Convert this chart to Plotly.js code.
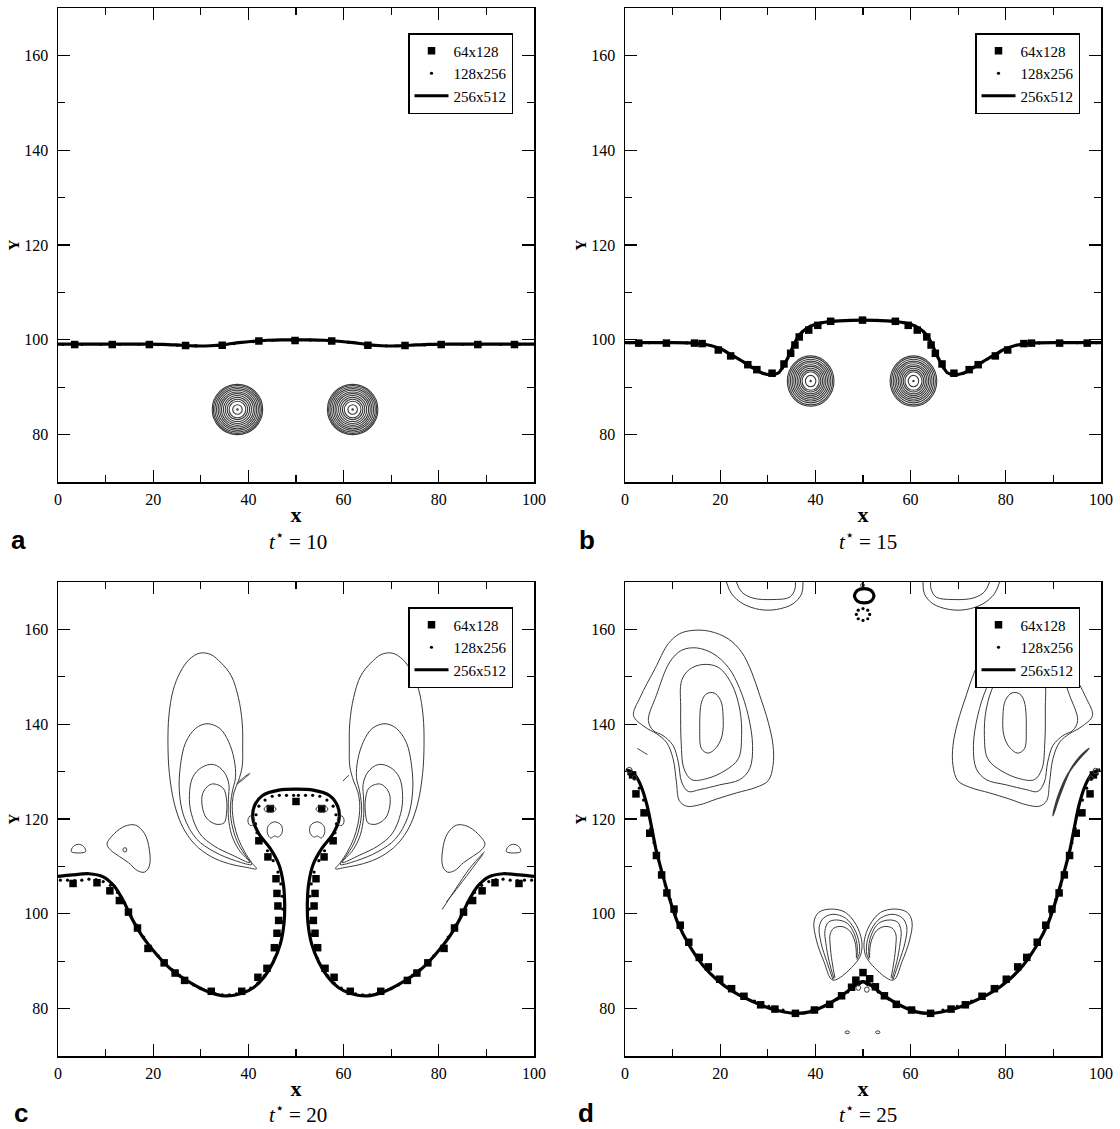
<!DOCTYPE html>
<html><head><meta charset="utf-8">
<script src="https://cdn.plot.ly/plotly-3.0.1.min.js"></script>
<style>html,body{margin:0;padding:0;background:#fff;} #chart{width:1120px;height:1129px;}</style>
</head><body><div id="chart"></div>
<script>
// ================= DATA =================
const panelTimes = ['10', '15', '20', '25'];
const panelLetters = ['a', 'b', 'c', 'd'];
const seriesNames = ['64x128', '128x256', '256x512'];

// ---- panel a (t*=10) ----
const aLineX = [0, 6, 12, 18, 22, 26, 29, 32, 35, 38, 41, 44, 47, 50, 53, 56, 59, 62, 65, 68, 71, 74, 78, 82, 88, 94, 100];
const aLineY = [99.1, 99.1, 99.1, 99.1, 99.05, 98.85, 98.7, 98.75, 99.0, 99.4, 99.7, 99.9, 100.0, 100.0, 100.0, 99.9, 99.7, 99.4, 99.0, 98.75, 98.7, 98.85, 99.05, 99.1, 99.1, 99.1, 99.1];
const aSqX = [3.5, 11.4, 19.2, 26.8, 34.5, 42.2, 49.8, 57.5, 65.1, 72.9, 80.5, 88.2, 95.9];
const aSqY = [99.0, 99.0, 99.0, 98.8, 98.85, 99.75, 99.85, 99.75, 98.85, 98.8, 99.0, 99.0, 99.0];
const aDotX = [1, 5, 9, 13, 17, 21, 25, 29, 33, 37, 41, 45, 49, 53, 57, 61, 65, 69, 73, 77, 81, 85, 89, 93, 97];
const aDotY = [99.05, 99.05, 99.05, 99.05, 99.05, 99.0, 98.85, 98.7, 98.8, 99.2, 99.6, 99.9, 100.0, 99.95, 99.8, 99.5, 99.05, 98.75, 98.75, 98.9, 99.0, 99.05, 99.05, 99.05, 99.05];
const aVortexX = [37.7, 61.9];
const aVortexY = [85.3, 85.3];
const aRingR = [0.15, 1.0, 1.75, 2.15, 2.55, 2.95, 3.35, 3.7, 4.05, 4.4, 4.75, 5.05, 5.3];

// ---- panel b (t*=15) ----
const bLineX = [0, 9, 15, 18, 20.2, 22.4, 24.7, 27.0, 28.8, 30.7, 32.2, 33.3, 34.5, 35.6, 36.9, 38.2, 39.7, 42.0, 45.0, 50.0, 55.0, 58.0, 60.3, 61.8, 63.1, 64.4, 65.5, 66.7, 67.8, 69.3, 71.2, 73.0, 75.3, 77.6, 79.8, 82.0, 85, 91, 100];
const bLineY = [99.4, 99.4, 99.27, 98.8, 98.06, 96.78, 95.43, 94.0, 93.0, 92.64, 93.0, 94.5, 96.78, 99.27, 101.3, 102.43, 103.18, 103.7, 104.0, 104.16, 104.0, 103.7, 103.18, 102.43, 101.3, 99.27, 96.78, 94.5, 93.0, 92.64, 93.0, 94.0, 95.43, 96.78, 98.06, 98.8, 99.27, 99.4, 99.4];
const bSqX = [2.9, 8.7, 14.6, 16.2, 19.6, 22.2, 25.8, 27.7, 30.9, 33.4, 34.8, 35.7, 36.6, 38.6, 40.5, 43.2, 49.9, 56.8, 59.5, 61.4, 63.4, 64.3, 65.2, 66.6, 69.1, 72.3, 74.2, 77.8, 80.4, 83.8, 85.4, 91.3, 97.1];
const bSqY = [99.3, 99.3, 99.3, 99.2, 97.85, 96.6, 94.75, 93.7, 92.95, 94.9, 97.15, 98.9, 100.6, 102.05, 103.05, 103.9, 104.15, 103.9, 103.05, 102.05, 100.6, 98.9, 97.15, 94.9, 92.95, 93.7, 94.75, 96.6, 97.85, 99.2, 99.3, 99.3, 99.3];
const bDotX = [1, 5, 9, 13, 17, 20, 23, 26, 29, 31, 33, 34.5, 35.8, 37.2, 39, 41.5, 44, 47, 50, 53, 56, 58.5, 61, 62.8, 64.2, 65.5, 67, 69, 71, 74, 77, 80, 83, 87, 91, 95, 99];
const bDotY = [99.4, 99.4, 99.4, 99.35, 99.0, 98.1, 96.4, 94.6, 92.9, 92.7, 94.0, 96.8, 99.6, 101.6, 102.9, 103.6, 103.95, 104.1, 104.15, 104.1, 103.95, 103.6, 102.9, 101.6, 99.6, 96.8, 94.0, 92.7, 92.9, 94.6, 96.4, 98.1, 99.0, 99.35, 99.4, 99.4, 99.4];
const bVortexX = [39.0, 60.6];
const bVortexY = [91.3, 91.3];
const bRingRX = [0.15, 1.1, 1.8, 2.15, 2.5, 2.85, 3.2, 3.55, 3.9, 4.25, 4.6, 4.9];
const bRingRY = [0.15, 1.2, 1.95, 2.3, 2.7, 3.1, 3.45, 3.85, 4.2, 4.6, 5.0, 5.3];

// ---- panel c (t*=20) ----
const cLine = [[0,107.9],[3,108.2],[6.5,108.45],[9.5,107.8],[11.8,105.85],[13.7,102.8],[15.55,98.97],[17.8,95.14],[20.8,91.32],[23.8,88.26],[27.6,85.58],[31.3,83.67],[35.1,82.68],[38.8,83.29],[41.1,84.44],[43.35,86.73],[45.2,89.79],[46.7,93.61],[47.5,98.2],[47.6,102.8],[47.3,106.6],[46.4,110.4],[44.5,113.9],[42.2,116.9],[40.95,120.0],[41.25,122.7],[42.97,124.97],[46.4,126.1],[50.0,126.3],
  [53.6,126.1],[57.03,124.97],[58.75,122.7],[59.05,120.0],[57.8,116.9],[55.5,113.9],[53.6,110.4],[52.7,106.6],[52.4,102.8],[52.5,98.2],[53.3,93.61],[54.8,89.79],[56.65,86.73],[58.9,84.44],[61.2,83.29],[64.9,82.68],[68.7,83.67],[72.4,85.58],[76.2,88.26],[79.2,91.32],[82.2,95.14],[84.45,98.97],[86.3,102.8],[88.2,105.85],[90.5,107.8],[93.5,108.45],[97,108.2],[100,107.9]];
const cSq = [[3.16,106.4],[8.19,106.55],[10.9,104.85],[12.9,102.8],[14.8,100.35],[16.7,97.0],[18.9,92.7],[22.3,89.65],[24.6,87.5],[26.6,85.95],[32.2,83.65],[38.6,83.65],[42.0,86.6],[43.9,88.5],[45.45,92.85],[46.0,95.9],[46.35,98.6],[46.2,101.65],[46.0,104.3],[45.8,107.4],[44.1,112.0],[42.2,115.4],[44.6,122.2],[50.0,123.7],
  [55.4,122.2],[57.8,115.4],[55.9,112.0],[54.2,107.4],[54.0,104.3],[53.8,101.65],[53.65,98.6],[54.0,95.9],[54.55,92.85],[56.1,88.5],[58.0,86.6],[61.4,83.65],[67.8,83.65],[73.4,85.95],[75.4,87.5],[77.7,89.65],[81.1,92.7],[83.3,97.0],[85.2,100.35],[87.1,102.8],[89.1,104.85],[91.8,106.55],[96.85,106.4]];
const cDot = [[0.5,107.1],[2,107.1],[3.5,107.0],[5,107.1],[6.5,107.3],[8,107.2],[9.5,106.8],[11,106.0],[12.5,104.5],[14,102.3],[15.3,99.6],[16.5,97.6],[18,95.1],[19.5,93.0],[21,91.2],[22.5,89.6],[24,88.2],[25.5,87.0],[27,85.9],[28.5,85.0],[30,84.2],[31.5,83.6],[33,83.1],[34.5,82.9],[36,82.9],[37.5,83.1],[39,83.5],[40.5,84.3],[42,85.4],[43.3,86.9],[44.5,88.6],[45.5,90.6],[46.3,93.0],[46.9,95.6],[47.1,98.3],[47.2,101.0],[47.1,103.7],[46.8,106.3],[46.2,108.8],[45.2,111.2],[44.0,113.3],[42.6,115.3],[41.8,117.1],[41.5,119.0],[41.6,120.9],[42.2,122.7],[43.5,124.0],[45.0,124.8],[46.5,125.0],[48.0,125.0],[49.5,125.0],
  [50.5,125.0],[52.0,125.0],[53.5,125.0],[55.0,124.8],[56.5,124.0],[57.8,122.7],[58.4,120.9],[58.5,119.0],[58.2,117.1],[57.4,115.3],[56.0,113.3],[54.8,111.2],[53.8,108.8],[53.2,106.3],[52.9,103.7],[52.8,101.0],[52.9,98.3],[53.1,95.6],[53.7,93.0],[54.5,90.6],[55.5,88.6],[56.7,86.9],[58.0,85.4],[59.5,84.3],[61.0,83.5],[62.5,83.1],[64.0,82.9],[65.5,82.9],[67.0,83.1],[68.5,83.6],[70.0,84.2],[71.5,85.0],[73.0,85.9],[74.5,87.0],[76.0,88.2],[77.5,89.6],[79.0,91.2],[80.5,93.0],[82.0,95.1],[83.5,97.6],[84.7,99.6],[86.0,102.3],[87.5,104.5],[89.0,106.0],[90.5,106.8],[92.0,107.2],[93.5,107.3],[95.0,107.1],[96.5,107.0],[98.0,107.1],[99.5,107.1]];
// vorticity contours, panel c
const cLobeL1 = [[41.7,109.5],[39.6,109.8],[35.8,110.6],[32.1,112.1],[28.7,114.7],[26.1,118.5],[24.4,123.4],[23.4,129.6],[23.1,135.7],[23.3,141.8],[24.2,147.2],[25.7,151.0],[27.6,153.7],[29.8,155.0],[32.1,154.7],[34.3,152.9],[36.4,150.2],[37.9,145.6],[38.7,140.3],[38.8,134.9],[38.7,131.1],[37.9,128.0],[37.0,125.7],[36.6,122.7],[37.0,118.9],[37.9,115.8],[39.2,113.1],[40.7,110.8],[41.7,109.5]];
const cLobeL2 = [[40.7,110.4],[37.3,111.2],[32.8,113.1],[29.1,115.8],[26.5,120.4],[25.5,125.7],[25.7,131.1],[26.8,136.1],[28.9,139.1],[31.3,140.1],[34.0,139.1],[35.8,136.4],[37.0,132.6],[37.3,128.8],[36.6,125.7],[36.2,121.9],[36.7,118.1],[37.9,114.7],[39.6,112.0],[40.7,110.4]];
const cLobeL3 = [[40.3,110.8],[36.6,112.4],[32.8,114.3],[29.8,116.9],[28.0,121.2],[27.6,125.0],[28.3,128.8],[30.2,130.9],[32.7,131.5],[34.9,129.9],[35.9,127.3],[35.8,124.2],[35.8,120.4],[36.5,116.6],[38.0,113.5],[40.3,110.8]];
const cLobeL4 = [[32.8,127.4],[34.7,126.5],[35.4,124.2],[35.4,121.2],[34.9,119.2],[33.2,118.9],[31.2,120.2],[30.3,122.7],[30.4,125.4],[31.7,127.1],[32.8,127.4]];
const cLobeR1 = [[58.3,109.5],[60.4,109.8],[64.2,110.6],[67.9,112.1],[71.3,114.7],[73.9,118.5],[75.6,123.4],[76.6,129.6],[76.9,135.7],[76.7,141.8],[75.8,147.2],[74.3,151.0],[72.4,153.7],[70.2,155.0],[67.9,154.7],[65.7,152.9],[63.6,150.2],[62.1,145.6],[61.3,140.3],[61.2,134.9],[61.3,131.1],[62.1,128.0],[63.0,125.7],[63.4,122.7],[63.0,118.9],[62.1,115.8],[60.8,113.1],[59.3,110.8],[58.3,109.5]];
const cLobeR2 = [[59.3,110.4],[62.7,111.2],[67.2,113.1],[70.9,115.8],[73.5,120.4],[74.5,125.7],[74.3,131.1],[73.2,136.1],[71.1,139.1],[68.7,140.1],[66.0,139.1],[64.2,136.4],[63.0,132.6],[62.7,128.8],[63.4,125.7],[63.8,121.9],[63.3,118.1],[62.1,114.7],[60.4,112.0],[59.3,110.4]];
const cLobeR3 = [[59.7,110.8],[63.4,112.4],[67.2,114.3],[70.2,116.9],[72.0,121.2],[72.4,125.0],[71.7,128.8],[69.8,130.9],[67.3,131.5],[65.1,129.9],[64.1,127.3],[64.2,124.2],[64.2,120.4],[63.5,116.6],[62.0,113.5],[59.7,110.8]];
const cLobeR4 = [[67.2,127.4],[65.3,126.5],[64.6,124.2],[64.6,121.2],[65.1,119.2],[66.8,118.9],[68.8,120.2],[69.7,122.7],[69.6,125.4],[68.3,127.1],[67.2,127.4]];
const cSideL = [[10.3,114.7],[11.8,116.9],[14.1,118.5],[16.3,118.7],[18.2,116.9],[19.2,113.5],[19.2,110.1],[18.2,108.8],[16.7,109.1],[14.8,110.8],[12.9,112.1],[11.0,113.5],[10.3,114.7]];
const cSideR = [[89.7,114.7],[88.2,116.9],[85.9,118.5],[83.7,118.7],[81.8,116.9],[80.8,113.5],[80.8,110.1],[81.8,108.8],[83.3,109.1],[85.2,110.8],[87.1,112.1],[89.0,113.5],[89.7,114.7]];
const cWallL = [[2.8,113.1],[3.2,114.2],[4.3,114.65],[5.4,114.2],[5.8,113.1],[2.8,113.1]];
const cWallR = [[94.2,113.1],[94.6,114.2],[95.7,114.65],[96.8,114.2],[97.2,113.1],[94.2,113.1]];
const cStreakA = [[80.7,100.9],[83.5,105.2],[86.5,109.6],[89.6,113.1]];
const cStreakB = [[81.6,102.5],[84.2,105.8],[87.2,109.8],[89.3,112.6]];
const cBlobL = [[44.0,117.0],[44.2,118.6],[45.5,119.4],[46.9,118.7],[47.1,117.2],[46.3,116.2],[45.5,116.4],[44.7,116.0],[44.0,117.0]];
const cBlobR = [[56.0,117.0],[55.8,118.6],[54.5,119.4],[53.1,118.7],[52.9,117.2],[53.7,116.2],[54.5,116.4],[55.3,116.0],[56.0,117.0]];
const cSpikeL = [[37.6,127.4],[38.8,128.6],[40.3,129.6],[39.0,128.4],[37.6,127.4]];
const cSpikeR = [[59.9,128.0],[60.5,128.7],[61.1,129.2]];
const cLoopCX = [14.05, 44.55, 55.45, 40.6, 59.4];
const cLoopCY = [113.5, 122.1, 122.1, 119.65, 119.65];
const cLoopRX = [0.4, 1.25, 1.25, 0.7, 0.7];
const cLoopRY = [0.45, 0.7, 0.7, 1.05, 1.05];

// ---- panel d (t*=25) ----
const dLine = [[0.15,130.4],[1.3,130.0],[2.4,128.9],[3.5,126.6],[4.65,122.8],[5.6,118.2],[6.5,113.6],[7.7,109.0],[9.2,103.7],[11.0,98.3],[13.7,93.0],[16.3,89.2],[19.3,86.1],[23.0,83.4],[26.8,81.5],[31.3,79.8],[35.8,79.0],[38.8,79.3],[41.8,80.5],[44.8,82.2],[47.45,84.2],[48.95,85.35],[50.1,85.7],[51.2,84.9],null,
  [48.8,84.9],[49.9,85.7],[51.05,85.35],[52.55,84.2],[55.2,82.2],[58.2,80.5],[61.2,79.3],[64.2,79.0],[68.7,79.8],[73.2,81.5],[77.0,83.4],[80.7,86.1],[83.7,89.2],[86.3,93.0],[89.0,98.3],[90.8,103.7],[92.3,109.0],[93.5,113.6],[94.4,118.2],[95.35,122.8],[96.5,126.6],[97.6,128.9],[98.7,130.0],[99.85,130.4],null,
  [52.3,167.1],[51.7,168.2],[50.25,168.6],[48.8,168.2],[48.2,167.1],[48.8,166.0],[50.25,165.6],[51.7,166.0],[52.3,167.1]];
const dSq = [[1.6,129.3],[2.3,125.3],[4.0,121.3],[5.2,117.0],[6.6,112.3],[7.7,108.2],[8.8,104.4],[10.3,101.0],[11.6,97.6],[13.4,94.0],[15.6,90.8],[17.5,88.8],[19.9,86.2],[22.4,84.2],[25.0,82.6],[28.5,80.8],[31.5,79.9],[35.8,79.0],[39.8,79.7],[43.0,80.9],[45.5,82.7],[47.6,84.5],[48.5,86.0],[50.0,87.6],[51.4,86.3],[52.6,84.6],
  [54.5,82.7],[57.0,80.9],[60.2,79.7],[64.2,79.0],[68.5,79.9],[71.5,80.8],[75.0,82.6],[77.6,84.2],[80.1,86.2],[82.5,88.8],[84.4,90.8],[86.6,94.0],[88.4,97.6],[89.7,101.0],[91.2,104.4],[92.3,108.2],[93.4,112.3],[94.8,117.0],[96.0,121.3],[97.7,125.3],[98.4,129.3]];
const dDot = [[0.8,129.5],[2.0,128.5],[3.0,126.5],[3.9,124.0],[4.7,121.0],[5.4,118.0],[6.1,115.0],[6.8,112.0],[7.6,109.0],[8.5,106.0],[9.5,103.0],[10.6,100.0],[11.9,97.0],[13.4,94.0],[15.2,91.3],[17.2,88.8],[19.4,86.6],[21.8,84.7],[24.4,83.0],[27.2,81.6],[30.2,80.5],[33.2,79.7],[36.2,79.3],[39.2,79.6],[42.0,80.6],[44.6,82.0],[46.8,83.5],[48.6,85.0],
  [51.4,85.0],[53.2,83.5],[55.4,82.0],[58.0,80.6],[60.8,79.6],[63.8,79.3],[66.8,79.7],[69.8,80.5],[72.8,81.6],[75.6,83.0],[78.2,84.7],[80.6,86.6],[82.8,88.8],[84.8,91.3],[86.6,94.0],[88.1,97.0],[89.4,100.0],[90.5,103.0],[91.5,106.0],[92.4,109.0],[93.2,112.0],[93.9,115.0],[94.6,118.0],[95.3,121.0],[96.1,124.0],[97.0,126.5],[98.0,128.5],[99.2,129.5],
  [51.4,163.15],[51.0,164.05],[50.0,164.4],[49.0,164.05],[48.6,163.15],[49.0,162.25],[50.0,161.9],[51.0,162.25]];
// vorticity contours, panel d
const dVortL1 = [[1.8,141.8],[3.2,145.7],[6.3,151.7],[9.1,157.0],[11.5,159.1],[14.3,159.8],[17.8,159.6],[21.7,158.0],[24.5,155.2],[26.6,151.0],[28.3,146.1],[30.1,140.4],[31.1,135.5],[31.1,131.3],[30.1,128.1],[27.6,126.7],[23.4,125.5],[19.2,124.2],[15.7,123.0],[12.9,122.7],[11.4,123.9],[10.8,127.8],[10.1,132.7],[8.7,136.2],[6.6,138.0],[4.2,139.4],[1.8,141.8]];
const dVortL2 = [[4.9,140.8],[6.6,146.1],[9.4,153.1],[11.9,155.6],[15.0,156.1],[18.5,154.9],[21.7,152.0],[24.1,147.5],[25.9,141.8],[26.8,135.5],[26.2,130.6],[24.1,128.3],[19.9,127.2],[15.7,126.2],[13.3,125.8],[11.9,127.8],[11.2,132.0],[10.1,135.5],[8.0,137.6],[5.9,138.7],[4.9,140.8]];
const dVortL3 = [[11.9,149.2],[11.7,143.2],[11.8,136.2],[12.4,130.6],[14.0,128.3],[17.1,128.5],[21.0,130.2],[23.8,132.7],[24.5,137.6],[24.1,143.2],[22.4,148.5],[19.6,152.0],[16.4,152.6],[13.6,151.6],[11.9,149.2]];
const dVortL4 = [[16.1,144.7],[17.1,146.4],[18.7,146.6],[20.1,145.0],[20.6,141.8],[20.4,137.6],[19.2,135.1],[17.5,133.9],[16.1,134.8],[15.7,139.0],[16.1,144.7]];
const dVortR1 = [[98.2,141.8],[96.8,145.7],[93.7,151.7],[90.9,157.0],[88.5,159.1],[85.7,159.8],[82.2,159.6],[78.3,158.0],[75.5,155.2],[73.4,151.0],[71.7,146.1],[69.9,140.4],[68.9,135.5],[68.9,131.3],[69.9,128.1],[72.4,126.7],[76.6,125.5],[80.8,124.2],[84.3,123.0],[87.1,122.7],[88.6,123.9],[89.2,127.8],[89.9,132.7],[91.3,136.2],[93.4,138.0],[95.8,139.4],[98.2,141.8]];
const dVortR2 = [[95.1,140.8],[93.4,146.1],[90.6,153.1],[88.1,155.6],[85.0,156.1],[81.5,154.9],[78.3,152.0],[75.9,147.5],[74.1,141.8],[73.2,135.5],[73.8,130.6],[75.9,128.3],[80.1,127.2],[84.3,126.2],[86.7,125.8],[88.1,127.8],[88.8,132.0],[89.9,135.5],[92.0,137.6],[94.1,138.7],[95.1,140.8]];
const dVortR3 = [[88.1,149.2],[88.3,143.2],[88.2,136.2],[87.6,130.6],[86.0,128.3],[82.9,128.5],[79.0,130.2],[76.2,132.7],[75.5,137.6],[75.9,143.2],[77.6,148.5],[80.4,152.0],[83.6,152.6],[86.4,151.6],[88.1,149.2]];
const dVortR4 = [[83.9,144.7],[82.9,146.4],[81.3,146.6],[79.9,145.0],[79.4,141.8],[79.6,137.6],[80.8,135.1],[82.5,133.9],[83.9,134.8],[84.3,139.0],[83.9,144.7]];
const dTopL1 = [[21.3,170],[22.4,167.5],[24.8,165.4],[28.3,164.2],[31.8,164.2],[35.3,165.4],[37.1,167.5],[37.4,170]];
const dTopL2 = [[23.4,170],[24.5,167.9],[26.9,166.6],[31.1,166.3],[34.6,166.8],[35.7,168.5],[35.8,170]];
const dTopR1 = [[62.6,170],[62.9,167.5],[64.7,165.4],[68.2,164.2],[71.7,164.2],[75.2,165.4],[77.6,167.5],[78.7,170]];
const dTopR2 = [[64.2,170],[64.3,168.5],[65.4,166.8],[68.9,166.3],[73.1,166.6],[75.5,167.9],[76.6,170]];
const dBflyL1 = [[43.7,86.0],[41.8,89.9],[40.2,94.5],[39.7,98.3],[40.7,100.3],[43.3,101.0],[46.3,100.3],[48.6,97.6],[49.7,94.5],[49.7,92.2],[49.0,90.3],[43.7,86.0]];
const dBflyL2 = [[43.7,86.1],[42.4,89.9],[41.2,93.8],[40.8,97.2],[41.7,99.1],[43.7,99.9],[46.3,99.1],[48.2,96.8],[49.2,93.8],[49.2,91.5],[48.7,90.3]];
const dBflyL3 = [[43.9,86.3],[42.9,89.9],[42.2,93.8],[42.0,96.4],[42.7,98.2],[44.4,98.7],[46.7,98.0],[48.2,95.7],[48.8,93.0],[48.7,90.7]];
const dBflyL4 = [[44.1,86.5],[43.5,89.9],[43.1,93.4],[43.1,95.7],[43.9,97.0],[45.6,97.3],[47.2,96.4],[48.3,94.1],[48.6,91.8],[48.6,90.7]];
const dBflyR1 = [[56.3,86.0],[58.2,89.9],[59.8,94.5],[60.3,98.3],[59.3,100.3],[56.7,101.0],[53.7,100.3],[51.4,97.6],[50.3,94.5],[50.3,92.2],[51.0,90.3],[56.3,86.0]];
const dBflyR2 = [[56.3,86.1],[57.6,89.9],[58.8,93.8],[59.2,97.2],[58.3,99.1],[56.3,99.9],[53.7,99.1],[51.8,96.8],[50.8,93.8],[50.8,91.5],[51.3,90.3]];
const dBflyR3 = [[56.1,86.3],[57.1,89.9],[57.8,93.8],[58.0,96.4],[57.3,98.2],[55.6,98.7],[53.3,98.0],[51.8,95.7],[51.2,93.0],[51.3,90.7]];
const dBflyR4 = [[55.9,86.5],[56.5,89.9],[56.9,93.4],[56.9,95.7],[56.1,97.0],[54.4,97.3],[52.8,96.4],[51.7,94.1],[51.4,91.8],[51.4,90.7]];
const dStreakR = [[89.9,120.7],[91.4,125.1],[93.6,130.4],[95.5,133.1],[97.5,134.9],[95.2,132.4],[93.0,129.4],[90.9,124.6],[89.9,120.7]];
const dDashL = [[2.6,134.9],[3.7,134.2],[4.7,133.6]];
const dLoopCX = [0.9, 2.0, 98.9, 97.9, 49.0, 50.8, 46.7, 53.1, 49.9];
const dLoopCY = [130.3, 128.7, 130.1, 128.6, 84.4, 84.0, 75.0, 75.0, 169.3];
const dLoopRX = [0.6, 0.5, 0.6, 0.5, 0.5, 0.5, 0.45, 0.45, 0.4];
const dLoopRY = [0.6, 0.5, 0.6, 0.5, 0.55, 0.55, 0.3, 0.3, 0.4];

// ================= BUILD =================
const SERIF = 'Liberation Serif';
const CONTOUR_COLOR = '#3a3a3a';
const axisNames = [['x','y'],['x2','y2'],['x3','y3'],['x4','y4']];
const legendIds = ['legend','legend2','legend3','legend4'];
const px = p => p.map(v => v === null ? null : v[0]);
const py = p => p.map(v => v === null ? null : v[1]);

const traces = [];
const shapes = [];

function contour(pairs, k, w) {
  traces.push({type:'scatter', mode:'lines', x:px(pairs), y:py(pairs),
    xaxis:axisNames[k][0], yaxis:axisNames[k][1],
    line:{color:CONTOUR_COLOR, width:w || 1, shape:'spline', smoothing:1},
    showlegend:false, hoverinfo:'skip'});
}
function ellipse(k, cx, cy, rx, ry, w) {
  shapes.push({type:'circle', xref:axisNames[k][0], yref:axisNames[k][1],
    x0:cx-rx, x1:cx+rx, y0:cy-ry, y1:cy+ry,
    line:{color:CONTOUR_COLOR, width:w || 1}, layer:'above'});
}
function series(k, lx, ly, sx, sy, dx, dy) {
  const xa = axisNames[k][0], ya = axisNames[k][1], lg = legendIds[k];
  traces.push({type:'scatter', mode:'lines', name:seriesNames[2], x:lx, y:ly, xaxis:xa, yaxis:ya,
    legend:lg, legendrank:3, line:{color:'#000', width:3.2, shape:'spline', smoothing:0.8}, connectgaps:false, hoverinfo:'skip'});
  traces.push({type:'scatter', mode:'markers', name:seriesNames[1], x:dx, y:dy, xaxis:xa, yaxis:ya,
    legend:lg, legendrank:2, marker:{symbol:'circle', size:3.2, color:'#000'}, hoverinfo:'skip'});
  traces.push({type:'scatter', mode:'markers', name:seriesNames[0], x:sx, y:sy, xaxis:xa, yaxis:ya,
    legend:lg, legendrank:1, marker:{symbol:'square', size:7.5, color:'#000'}, hoverinfo:'skip'});
}

// panel a
aVortexX.forEach((cx, i) => aRingR.forEach(r => ellipse(0, cx, aVortexY[i], r, r, 1.1)));
series(0, aLineX, aLineY, aSqX, aSqY, aDotX, aDotY);
// panel b
bVortexX.forEach((cx, i) => bRingRX.forEach((r, j) => ellipse(1, cx, bVortexY[i], r, bRingRY[j], 1.1)));
series(1, bLineX, bLineY, bSqX, bSqY, bDotX, bDotY);
// panel c
[cLobeL1,cLobeL2,cLobeL3,cLobeL4,cLobeR1,cLobeR2,cLobeR3,cLobeR4,cSideL,cSideR,cWallL,cWallR,
 cStreakA,cStreakB,cBlobL,cBlobR,cSpikeL,cSpikeR].forEach(c => contour(c, 2));
cLoopCX.forEach((cx, i) => ellipse(2, cx, cLoopCY[i], cLoopRX[i], cLoopRY[i]));
series(2, px(cLine), py(cLine), px(cSq), py(cSq), px(cDot), py(cDot));
// panel d
[dVortL1,dVortL2,dVortL3,dVortL4,dVortR1,dVortR2,dVortR3,dVortR4,dTopL1,dTopL2,dTopR1,dTopR2,
 dBflyL1,dBflyL2,dBflyL3,dBflyL4,dBflyR1,dBflyR2,dBflyR3,dBflyR4,dDashL].forEach(c => contour(c, 3));
contour(dStreakR, 3, 1.6);
dLoopCX.forEach((cx, i) => ellipse(3, cx, dLoopCY[i], dLoopRX[i], dLoopRY[i]));
series(3, px(dLine), py(dLine), px(dSq), py(dSq), px(dDot), py(dDot));

// ================= LAYOUT =================
const W = 1120, H = 1129;
const xDom = [[58/W, 534/W], [625/W, 1101/W]];
const yDom = [[1-482/H, 1-8/H], [1-1056/H, 1-582/H]];
const tickFont = {family:SERIF, size:16, color:'#000'};
function xaxis(d, ya) {
  return {domain:d, anchor:ya, range:[0,100], tick0:0, dtick:20, ticks:'inside', ticklen:12, tickwidth:1.3, tickcolor:'#000',
    minor:{dtick:10, ticks:'inside', ticklen:7, tickwidth:1.3, tickcolor:'#000'},
    showline:true, linewidth:1.5, linecolor:'#000', mirror:'allticks', showgrid:false, zeroline:false,
    tickfont:tickFont, ticklabelstandoff:2,
    title:{text:'<b>x</b>', font:{family:SERIF, size:22, color:'#000'}, standoff:0}};
}
function yaxis(d, xa) {
  return {domain:d, anchor:xa, range:[70,170], tick0:0, dtick:20, ticks:'inside', ticklen:12, tickwidth:1.3, tickcolor:'#000',
    minor:{dtick:10, ticks:'inside', ticklen:7, tickwidth:1.3, tickcolor:'#000'},
    showline:true, linewidth:1.5, linecolor:'#000', mirror:'allticks', showgrid:false, zeroline:false,
    tickfont:tickFont, ticklabelstandoff:5,
    title:{text:'<b>Y</b>', font:{family:SERIF, size:15, color:'#000'}, standoff:1}};
}
function legend(xr, yt) {
  return {x:xr, y:yt, xanchor:'right', yanchor:'top', bgcolor:'#fff', bordercolor:'#000', borderwidth:1.5,
    font:{family:SERIF, size:15, color:'#000'}, tracegroupgap:0, itemwidth:34, traceorder:'normal'};
}
const annotations = [];
const titleX = [0.266, 0.775], titleY = [1-540/H, 1-1113/H];
const letterX = [[18/W, 587/W], [21/W, 586/W]];
panelTimes.forEach((t, k) => {
  const col = k % 2, row = Math.floor(k / 2);
  annotations.push({xref:'paper', yref:'paper', x:titleX[col], y:titleY[row], xanchor:'center', yanchor:'middle',
    showarrow:false, text:'<i>t</i><sup>⋆</sup> = ' + t, font:{family:SERIF, size:21, color:'#000'}});
  annotations.push({xref:'paper', yref:'paper', x:letterX[row][col], y:titleY[row], xanchor:'center', yanchor:'middle',
    showarrow:false, text:'<b>' + panelLetters[k] + '</b>', font:{family:'Liberation Sans', size:26, color:'#000'}});
});

const layout = {
  width:W, height:H, margin:{l:0, r:0, t:0, b:0}, paper_bgcolor:'#fff', plot_bgcolor:'#fff', showlegend:true,
  xaxis:xaxis(xDom[0],'y'), yaxis:yaxis(yDom[0],'x'),
  xaxis2:xaxis(xDom[1],'y2'), yaxis2:yaxis(yDom[0],'x2'),
  xaxis3:xaxis(xDom[0],'y3'), yaxis3:yaxis(yDom[1],'x3'),
  xaxis4:xaxis(xDom[1],'y4'), yaxis4:yaxis(yDom[1],'x4'),
  legend:legend(513/W, 1-33/H), legend2:legend(1080/W, 1-33/H),
  legend3:legend(513/W, 1-607/H), legend4:legend(1080/W, 1-607/H),
  shapes:shapes, annotations:annotations
};
Plotly.newPlot('chart', traces, layout, {staticPlot:true, displayModeBar:false});
</script></body></html>
